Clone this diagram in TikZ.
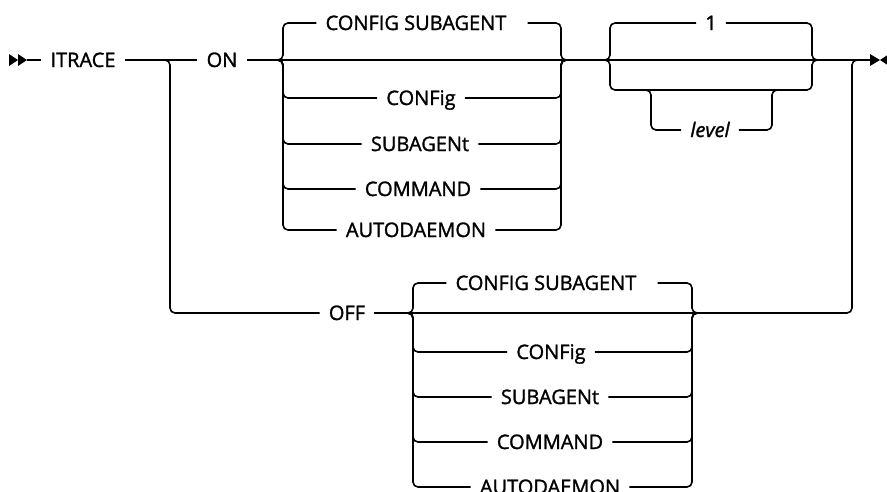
\documentclass[tikz,border=0pt]{standalone}
\usepackage{fontspec}
\setmainfont{Open Sans}
\begin{document}
\begin{tikzpicture}[x=1pt,y=-1pt,
  rail/.style={line width=1.6pt, rounded corners=5pt},
  kw/.style={font=\fontsize{20}{24}\selectfont\addfontfeatures{FakeBold=1.4}, inner xsep=9pt, inner ysep=0pt, text height=14pt, text depth=0pt},
  var/.style={kw, font=\fontsize{20}{24}\selectfont\itshape\addfontfeatures{FakeBold=1.4}},
  tipfill/.style={fill=black}]
\useasboundingbox (0,0) rectangle (887,491);

% start / end tips
\fill[tipfill] (9,54) -- (18,60) -- (9,66) -- cycle;
\fill[tipfill] (18,54) -- (27,60) -- (18,66) -- cycle;
\coordinate (start) at (27,60);
\coordinate (endA) at (870,60);
\fill[tipfill] (870,54) -- (880,60) -- (870,66) -- cycle;
\fill[tipfill] (889,54) -- (880,60) -- (889,66) -- cycle;

% nodes on main line
\node[kw] (itrace) at (83,60) {ITRACE};
\node[kw] (on) at (222,60) {ON};
\node[kw] (off) at (347,313) {OFF};

% helper coordinates
\coordinate (splitA) at (160,60);
\coordinate (splitV) at (170,60);
\coordinate (onC) at (278,60);
\coordinate (onL) at (283,60);
\coordinate (onR) at (561,60);
\coordinate (onD) at (567,60);
\coordinate (oneC) at (605,60);
\coordinate (oneL) at (610,60);
\coordinate (oneR) at (812,60);
\coordinate (oneD) at (818,60);
\coordinate (oneB) at (711,90);
\coordinate (lvA) at (643,90);
\coordinate (lvL) at (651,90);
\coordinate (lvR) at (772,90);
\coordinate (lvB) at (780,90);
\coordinate (offC) at (408,313);
\coordinate (offL) at (413,313);
\coordinate (offR) at (692,313);
\coordinate (offD) at (698,313);
\coordinate (joinV) at (852,60);

% ON group options
\node[kw] (o1) at (422,23) {CONFIG SUBAGENT\hspace*{12pt}};
\node[kw] (o2) at (421,98) {CONFig};
\node[kw] (o3) at (420,144) {SUBAGENt};
\node[kw] (o4) at (418,189) {COMMAND};
\node[kw] (o5) at (416,230) {AUTODAEMON};

% OFF group options
\node[kw] (f1) at (552,283) {CONFIG SUBAGENT\hspace*{12pt}};
\node[kw] (f2) at (551,352) {CONFig};
\node[kw] (f3) at (550,397) {SUBAGENt};
\node[kw] (f4) at (550,442) {COMMAND};
\node[kw] (f5) at (550,487) {AUTODAEMON};

% level group
\node[kw] (one) at (711,23) {1};
\node[var] (level) at (710,130) {level};

% main line
\draw[rail] (start) -- (itrace.west);
\draw[rail] (itrace.east) -- (on.west);
\draw[rail] (on.east) -- (endA);

% OFF branch
\draw[rail] (splitA) -| (splitV |- off) -- (off.west);
\draw[rail] (off.east) -- (offD);
\draw[rail] (offD) -| (joinV) -- (endA);

% ON group
\foreach \n in {o1,o2,o3,o4,o5}{
  \draw[rail] (onC) -| (onL |- \n) -- (\n.west);
  \draw[rail] (\n.east) -| (onR) -- (onD);
}
% OFF group
\foreach \n in {f1,f2,f3,f4,f5}{
  \draw[rail] (offC) -| (offL |- \n) -- (\n.west);
  \draw[rail] (\n.east) -| (offR) -- (offD);
}
% 1 / level group
\draw[rail] (oneC) -| (oneL |- one) -- (one.west);
\draw[rail] (one.east) -| (oneR) -- (oneD);
\draw[rail] (oneC) -| (oneL |- oneB) -| (oneR) -- (oneD);
\draw[rail] (lvA) -| (lvL |- level) -- (level.west);
\draw[rail] (level.east) -| (lvR) -- (lvB);
\end{tikzpicture}
\end{document}
